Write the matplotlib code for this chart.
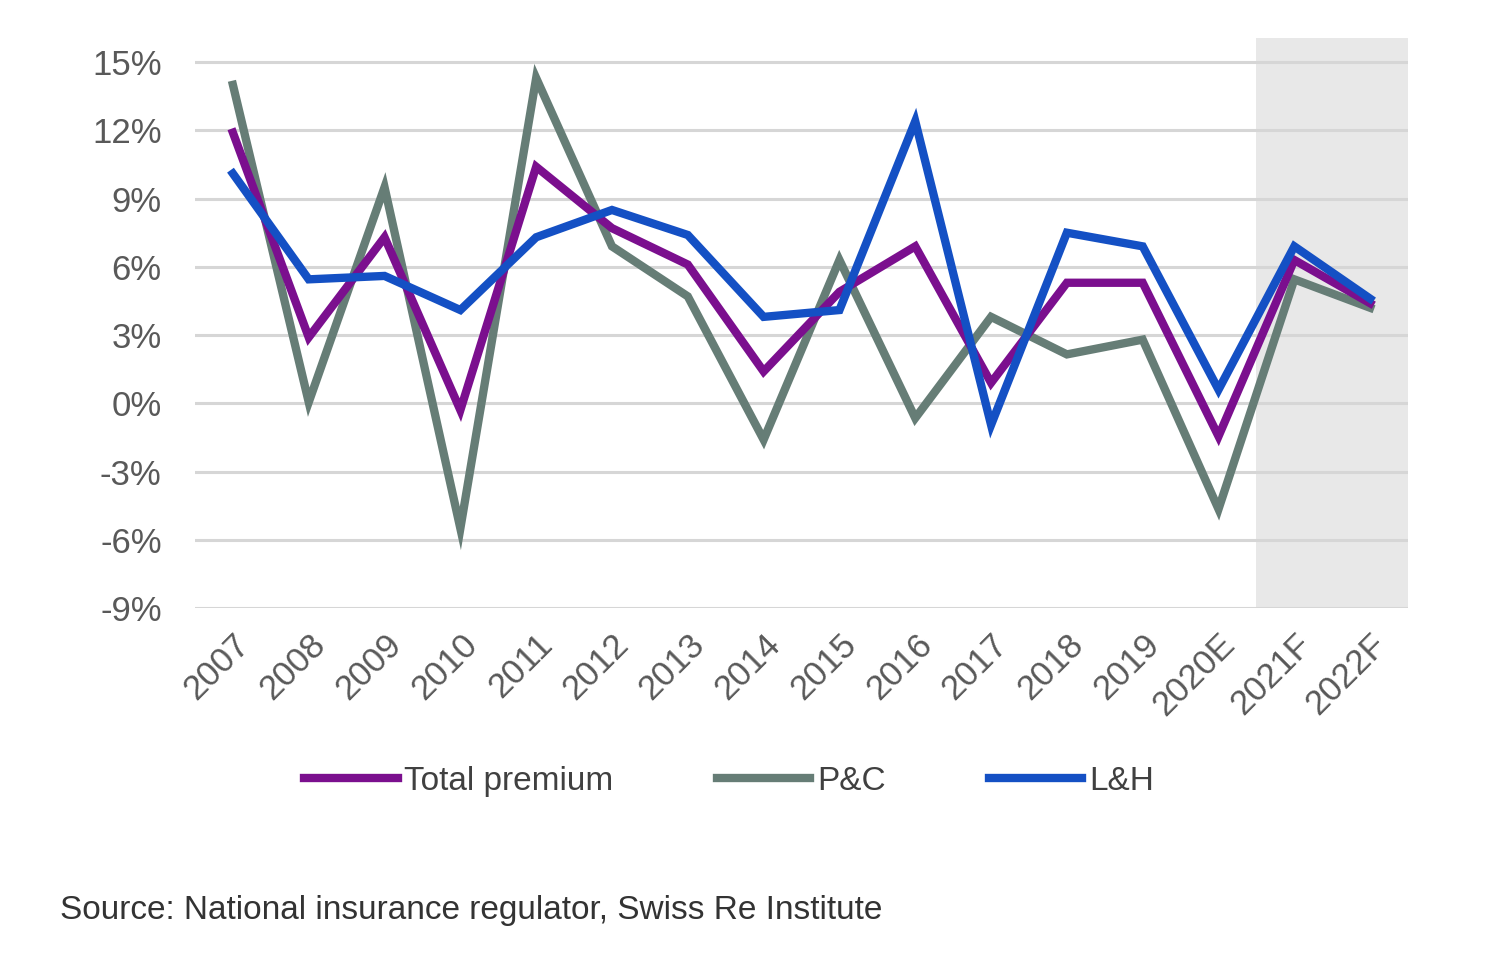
import numpy as np
from matplotlib import pyplot as plt

plt.rcParams['font.family'] = ['Liberation Sans Narrow', 'Liberation Sans', 'DejaVu Sans']

years = ['2007', '2008', '2009', '2010', '2011', '2012', '2013', '2014',
         '2015', '2016', '2017', '2018', '2019', '2020E', '2021F', '2022F']
total_premium = [11.9, 2.9, 7.3, -0.3, 10.4, 7.7, 6.1, 1.4,
                 4.9, 6.9, 0.9, 5.3, 5.3, -1.45, 6.3, 4.4]
p_and_c = [14.0, 0.05, 9.5, -5.5, 14.3, 6.9, 4.7, -1.6,
           6.3, -0.65, 3.8, 2.15, 2.8, -4.65, 5.45, 4.2]
l_and_h = [10.1, 5.45, 5.6, 4.1, 7.3, 8.5, 7.4, 3.8,
           4.1, 12.4, -0.95, 7.5, 6.9, 0.6, 6.9, 4.6]
y_ticks = [15, 12, 9, 6, 3, 0, -3, -6, -9]
forecast_start = 14  # index of first forecast year

fig = plt.figure(figsize=(15, 9.56), dpi=100)
ax = fig.add_axes([0.13, 0.364, 0.8087, 0.596])

x = np.arange(len(years))
ax.axvspan(forecast_start - 0.5, len(years) - 0.5, color='#e8e8e8', zorder=0, lw=0)
for t in y_ticks:
    ax.axhline(t, color='#d6d6d6', linewidth=2.2, zorder=1)

lw = 6.0
ax.plot(x, total_premium, color='#7b0f8e', linewidth=lw, label='Total premium',
        solid_joinstyle='miter', zorder=3)
ax.plot(x, p_and_c, color='#667d76', linewidth=lw, label='P&C',
        solid_joinstyle='miter', zorder=2)
ax.plot(x, l_and_h, color='#1450c4', linewidth=lw, label='L&H',
        solid_joinstyle='miter', zorder=4)

ax.set_xlim(-0.5, len(years) - 0.5)
ax.set_ylim(-9, 16.05)
ax.set_yticks(y_ticks)
ax.set_yticklabels([f'{t}%' for t in y_ticks])
ax.set_xticks(x)
ax.set_xticklabels(years, rotation=45, ha='right', rotation_mode='anchor')
ax.tick_params(axis='both', length=0, labelsize=25, labelcolor='#595959')
ax.tick_params(axis='y', pad=24)
ax.tick_params(axis='x', pad=14)
for s in ax.spines.values():
    s.set_visible(False)

leg = fig.legend(loc='center', bbox_to_anchor=(0.486, 0.183), ncol=3, frameon=False,
                 fontsize=24, handlelength=2.8, handletextpad=0.2, columnspacing=3.1)
for txt in leg.get_texts():
    txt.set_color('#404040')

fig.text(0.04, 0.048, 'Source: National insurance regulator, Swiss Re Institute',
         fontsize=24, color='#333333', ha='left', va='center')

plt.savefig('out.png', dpi=100)
